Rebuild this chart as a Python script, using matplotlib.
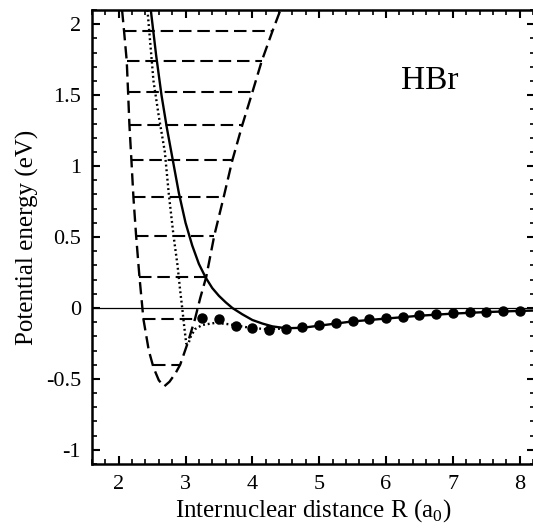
import numpy as np
import matplotlib
matplotlib.use("Agg")
import matplotlib.pyplot as plt
from matplotlib.ticker import MultipleLocator, FuncFormatter

# outer dashed potential well (left branch down to minimum, then right branch up)
well_r = [2.05, 2.08, 2.12, 2.14, 2.16, 2.19, 2.22, 2.26, 2.31, 2.37, 2.45, 2.52, 2.60,
          2.68, 2.76, 2.85, 2.92, 3.03, 3.14, 3.22, 3.31, 3.43, 3.57, 3.70, 3.85, 4.00,
          4.14, 4.30, 4.42]
well_e = [2.10, 1.95, 1.74, 1.52, 1.29, 1.04, 0.78, 0.51, 0.22, -0.08, -0.30, -0.42, -0.51,
          -0.553, -0.52, -0.46, -0.40, -0.25, -0.08, 0.07, 0.22, 0.51, 0.78, 1.04, 1.29, 1.52,
          1.74, 1.95, 2.10]
min_index = 13

# vibrational levels (eV)
levels = [-0.40, -0.08, 0.22, 0.51, 0.78, 1.04, 1.29, 1.52, 1.74, 1.95]

# solid curve
solid_r = [2.48, 2.56, 2.64, 2.72, 2.81, 2.90, 3.00, 3.10, 3.20, 3.30, 3.40, 3.50, 3.60,
           3.70, 3.85, 4.00, 4.15, 4.30, 4.50, 4.75, 5.00, 5.50, 6.00, 6.50, 7.00, 7.50,
           8.00, 8.25]
solid_e = [2.10, 1.78, 1.50, 1.27, 1.04, 0.81, 0.60, 0.44, 0.31, 0.215, 0.14, 0.085, 0.04,
           0.00, -0.045, -0.085, -0.11, -0.13, -0.143, -0.14, -0.125, -0.095, -0.075, -0.055,
           -0.04, -0.029, -0.021, -0.018]

# dotted curve
dot_r = [2.43, 2.52, 2.60, 2.69, 2.75, 2.82, 2.88, 2.92, 2.95, 2.98, 3.01, 3.04, 3.08,
         3.14, 3.25, 3.45, 3.65, 3.90, 4.20, 4.50]
dot_e = [2.10, 1.60, 1.35, 1.10, 0.80, 0.51, 0.30, 0.12, 0.00, -0.13, -0.25, -0.255, -0.20,
         -0.15, -0.12, -0.105, -0.115, -0.135, -0.15, -0.145]

# filled circles
pts_r = [3.25, 3.50, 3.75, 4.00, 4.25, 4.50, 4.75, 5.00, 5.25, 5.50, 5.75, 6.00, 6.25,
         6.50, 6.75, 7.00, 7.25, 7.50, 7.75, 8.00]
pts_e = [-0.07, -0.078, -0.125, -0.141, -0.152, -0.148, -0.136, -0.12, -0.105, -0.09,
         -0.08, -0.072, -0.062, -0.053, -0.045, -0.038, -0.032, -0.027, -0.023, -0.02]

plt.rcParams["font.family"] = ["Liberation Serif", "DejaVu Serif"]
plt.rcParams["mathtext.fontset"] = "custom"
plt.rcParams["mathtext.rm"] = "Liberation Serif"
plt.rcParams["axes.unicode_minus"] = False

fig = plt.figure(figsize=(5.33, 5.28), dpi=100)
ax = fig.add_axes([92 / 533, 1 - 464 / 528, 443 / 533, 454 / 528])

ax.axhline(0, color="black", lw=0.9)

ax.plot(well_r, well_e, color="black", lw=1.7, dashes=(5.2, 2.5))
left_r = np.array(well_r[:min_index + 1])[::-1]
left_e = np.array(well_e[:min_index + 1])[::-1]
right_r = np.array(well_r[min_index:])
right_e = np.array(well_e[min_index:])
for lev in levels:
    r0 = np.interp(lev, left_e, left_r)
    r1 = np.interp(lev, right_e, right_r)
    ax.plot([r0, r1], [lev, lev], color="black", lw=1.5, dashes=(6, 2.8))

ax.plot(dot_r, dot_e, color="black", lw=1.7, dashes=(0.8, 1.2))
ax.plot(solid_r, solid_e, color="black", lw=1.7)
ax.plot(pts_r, pts_e, "o", color="black", ms=6.5)

ax.text(6.66, 1.6, "HBr", fontsize=24, ha="center", va="center")

ax.set_xlim(1.6, 8.23)
ax.set_ylim(-1.1, 2.1)
ax.xaxis.set_major_locator(MultipleLocator(1))
ax.xaxis.set_minor_locator(MultipleLocator(0.2))
ax.yaxis.set_major_locator(MultipleLocator(0.5))
ax.yaxis.set_minor_locator(MultipleLocator(0.1))
ax.yaxis.set_major_formatter(FuncFormatter(lambda v, p: "%g" % v))
ax.xaxis.set_major_formatter(FuncFormatter(lambda v, p: "%g" % v))

ax.tick_params(which="both", direction="in", top=True, right=True)
ax.tick_params(which="major", length=6, width=1.5, labelsize=16)
ax.tick_params(which="minor", length=3.5, width=1.2)
ax.tick_params(axis="x", pad=8)
ax.tick_params(axis="y", pad=8)
for s in ax.spines.values():
    s.set_linewidth(1.8)

ax.set_xlabel(r"Internuclear distance R ($\mathrm{a}_0$)", fontsize=18, labelpad=2)
ax.set_ylabel("Potential energy (eV)", fontsize=18, labelpad=5)

fig.savefig("out.png", dpi=100)
